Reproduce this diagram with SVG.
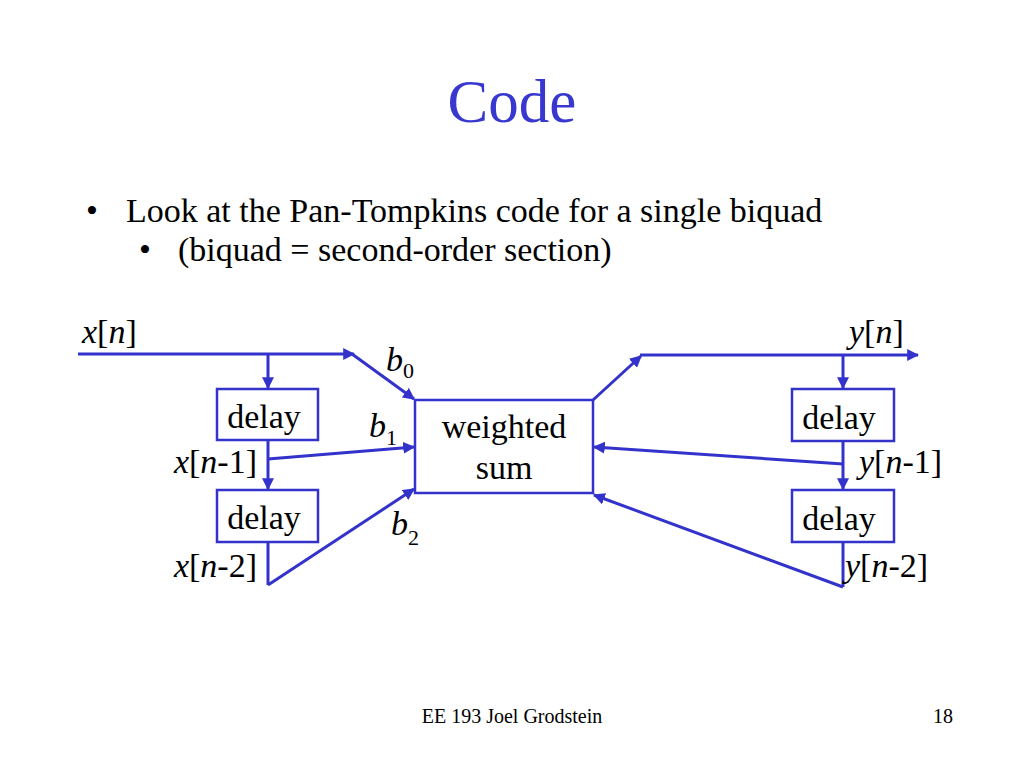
<svg xmlns="http://www.w3.org/2000/svg" width="1024" height="768" viewBox="0 0 1024 768">
<defs>
<marker id="ah" viewBox="0 0 10 10" refX="9" refY="5" markerWidth="4" markerHeight="4" markerUnits="strokeWidth" orient="auto">
<path d="M0,0 L10,5 L0,10 Z" fill="#3333CC"/>
</marker>
</defs>
<style>
text{font-family:"Liberation Serif","Times New Roman",serif;fill:#000}
.t{font-size:34px}
.it{font-style:italic}
.sub{font-size:22px}
.box{fill:#fff;stroke:#3333CC;stroke-width:2.5}
.ln{fill:none;stroke:#3333CC;stroke-width:3;stroke-linejoin:miter}
.arr{fill:none;stroke:#3333CC;stroke-width:3;marker-end:url(#ah)}
</style>
<rect width="1024" height="768" fill="#fff"/>
<text x="512" y="122" text-anchor="middle" style="font-size:61px;fill:#3838D0">Code</text>
<text x="86" y="222" class="t">•</text>
<text x="126" y="222" class="t">Look at the Pan-Tompkins code for a single biquad</text>
<text x="139" y="261" style="font-size:34px">•</text>
<text x="178" y="261" class="t">(biquad = second-order section)</text>

<g id="connectors">
<line class="arr" x1="78" y1="354" x2="354" y2="354"/>
<line class="arr" x1="352" y1="354" x2="414" y2="399"/>
<line class="arr" x1="268" y1="354" x2="268" y2="388"/>
<line class="arr" x1="268" y1="440" x2="268" y2="489"/>
<line class="arr" x1="268" y1="459" x2="414" y2="447"/>
<line class="ln" x1="268" y1="542" x2="268" y2="585"/>
<line class="arr" x1="268" y1="585" x2="414" y2="489"/>
<line class="arr" x1="593" y1="400" x2="641" y2="356"/>
<line class="arr" x1="640" y1="355" x2="918" y2="355"/>
<line class="arr" x1="843" y1="355" x2="843" y2="388"/>
<line class="arr" x1="843" y1="441" x2="843" y2="489"/>
<line class="arr" x1="843" y1="464" x2="594" y2="447"/>
<line class="ln" x1="843" y1="542" x2="843" y2="587"/>
<line class="arr" x1="843" y1="587" x2="594" y2="495"/>
</g>

<g id="sum">
<rect class="box" x="415" y="400" width="178" height="93"/>
<text x="504" y="438" text-anchor="middle" class="t">weighted</text>
<text x="504" y="479" text-anchor="middle" class="t">sum</text>
</g>
<g id="xdelay1">
<rect class="box" x="217" y="389" width="101" height="51"/>
<text x="264" y="428" text-anchor="middle" class="t">delay</text>
</g>
<g id="xdelay2">
<rect class="box" x="217" y="490" width="101" height="52"/>
<text x="264" y="529" text-anchor="middle" class="t">delay</text>
</g>
<g id="ydelay1">
<rect class="box" x="792" y="389" width="102" height="52"/>
<text x="839" y="429" text-anchor="middle" class="t">delay</text>
</g>
<g id="ydelay2">
<rect class="box" x="792" y="490" width="102" height="52"/>
<text x="839" y="530" text-anchor="middle" class="t">delay</text>
</g>

<g id="labels" class="t">
<text x="82" y="343"><tspan class="it">x</tspan>[<tspan class="it">n</tspan>]</text>
<text x="257" y="473" text-anchor="end"><tspan class="it">x</tspan>[<tspan class="it">n</tspan>-1]</text>
<text x="257" y="577" text-anchor="end"><tspan class="it">x</tspan>[<tspan class="it">n</tspan>-2]</text>
<text x="849" y="343"><tspan class="it">y</tspan>[<tspan class="it">n</tspan>]</text>
<text x="859" y="473"><tspan class="it">y</tspan>[<tspan class="it">n</tspan>-1]</text>
<text x="845" y="577"><tspan class="it">y</tspan>[<tspan class="it">n</tspan>-2]</text>
<text x="386" y="371"><tspan class="it">b</tspan><tspan dy="7" class="sub">0</tspan></text>
<text x="369" y="437"><tspan class="it">b</tspan><tspan dy="8" class="sub">1</tspan></text>
<text x="391" y="535"><tspan class="it">b</tspan><tspan dy="10" class="sub">2</tspan></text>
</g>

<text x="512" y="723" text-anchor="middle" style="font-size:20px">EE 193 Joel Grodstein</text>
<text x="953" y="723" text-anchor="end" style="font-size:20px">18</text>
</svg>
